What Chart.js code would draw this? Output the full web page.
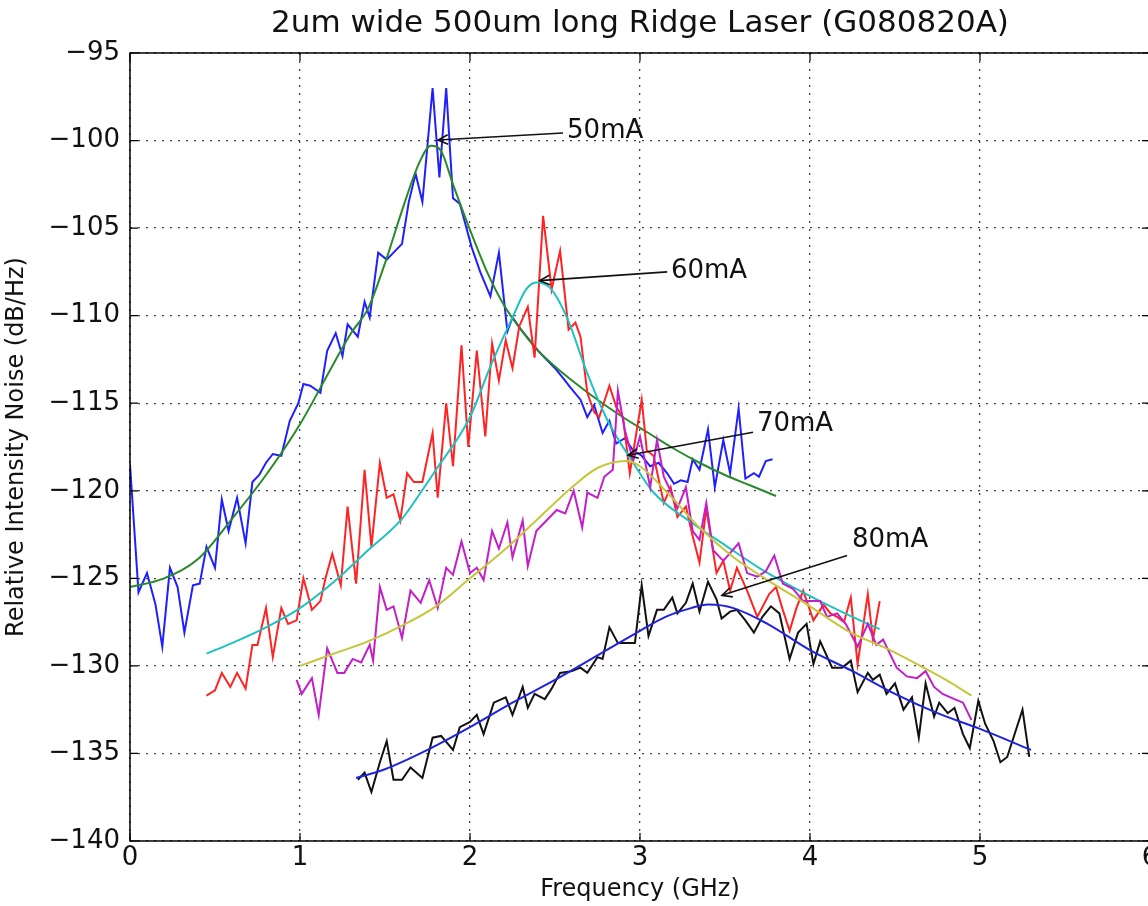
<!DOCTYPE html>
<html>
<head>
<meta charset="utf-8">
<script src="https://cdn.jsdelivr.net/npm/chart.js@4.4.0/dist/chart.umd.min.js"></script>
<style>
  html, body { margin: 0; padding: 0; background: #ffffff; overflow: hidden; width: 1148px; height: 906px; }
  #wrap { position: absolute; left: 0; top: 0; width: 1170px; height: 906px; }
</style>
</head>
<body>
<div id="wrap"><canvas id="c" width="1170" height="906"></canvas></div>
<script>
// ---------------- data ----------------
const titleText = '2um wide 500um long Ridge Laser (G080820A)';
const xAxisLabel = 'Frequency (GHz)';
const yAxisLabel = 'Relative Intensity Noise (dB/Hz)';

// 50 mA measured (blue) and fit (green)
const m50X = [0.00,0.05,0.10,0.15,0.19,0.235,0.28,0.32,0.37,0.41,0.45,0.50,0.54,0.58,0.63,0.68,0.72,0.76,0.80,0.84,0.89,0.94,0.99,1.02,1.06,1.12,1.16,1.21,1.25,1.28,1.34,1.38,1.41,1.46,1.51,1.55,1.60,1.64,1.68,1.72,1.78,1.82,1.86,1.90,1.94,2.01,2.06,2.12,2.17,2.22,2.25,2.30,2.35,2.40,2.45,2.50,2.55,2.59,2.65,2.69,2.73,2.78,2.82,2.86,2.91,2.96,3.01,3.06,3.11,3.16,3.20,3.24,3.28,3.31,3.35,3.40,3.44,3.49,3.53,3.58,3.62,3.67,3.70,3.74,3.78];
const m50Y = [-118.5,-125.8,-124.7,-126.5,-128.9,-124.4,-125.5,-128.1,-125.4,-125.3,-123.2,-124.4,-120.5,-122.3,-120.4,-123.0,-119.5,-119.1,-118.4,-117.9,-118.0,-116.0,-115.0,-113.9,-114.0,-114.4,-112.0,-111.0,-112.3,-110.5,-111.2,-109.2,-110.1,-106.4,-106.8,-106.4,-105.9,-103.5,-101.9,-103.5,-97.0,-102.1,-97.0,-103.3,-103.6,-106.1,-107.5,-108.9,-106.4,-110.9,-110.1,-110.8,-111.4,-112.0,-112.5,-113.0,-113.6,-114.1,-114.8,-115.8,-115.1,-116.7,-116.0,-117.3,-117.0,-117.7,-118.0,-118.6,-118.4,-119.0,-119.6,-119.4,-119.5,-118.2,-118.8,-116.5,-119.8,-117.1,-119.0,-115.3,-119.3,-119.0,-119.2,-118.3,-118.2];
const f50X = [0.0,0.2,0.4,0.6,0.8,1.0,1.2,1.3,1.4,1.5,1.6,1.7,1.77,1.83,1.9,2.0,2.1,2.2,2.3,2.4,2.5,2.6,2.75,2.9,3.05,3.2,3.35,3.5,3.65,3.8];
const f50Y = [-125.5,-125.0,-123.9,-121.6,-119.1,-116.2,-112.7,-111.0,-109.6,-107.0,-104.0,-101.3,-100.3,-100.6,-102.5,-105.1,-107.5,-109.4,-110.8,-112.0,-112.9,-113.7,-114.8,-115.8,-116.7,-117.6,-118.4,-119.1,-119.7,-120.3];

// 60 mA measured (red) and fit (cyan)
const m60X = [0.45,0.50,0.54,0.59,0.63,0.68,0.72,0.75,0.80,0.84,0.89,0.93,0.98,1.02,1.07,1.12,1.15,1.19,1.24,1.28,1.33,1.38,1.42,1.47,1.51,1.55,1.59,1.63,1.67,1.72,1.78,1.81,1.86,1.90,1.95,1.99,2.04,2.09,2.13,2.17,2.21,2.25,2.29,2.34,2.38,2.43,2.48,2.53,2.58,2.62,2.65,2.69,2.73,2.76,2.82,2.86,2.90,2.94,3.01,3.04,3.08,3.14,3.18,3.22,3.27,3.31,3.35,3.39,3.45,3.49,3.53,3.57,3.63,3.69,3.76,3.80,3.84,3.88,3.92,3.96,4.02,4.08,4.12,4.16,4.20,4.24,4.28,4.34,4.37,4.41];
const m60Y = [-131.7,-131.4,-130.4,-131.2,-130.4,-131.3,-128.8,-128.8,-126.7,-129.5,-126.7,-127.6,-127.4,-125.0,-126.8,-126.3,-125.0,-123.6,-125.4,-120.9,-125.3,-118.8,-123.2,-118.4,-120.4,-120.2,-121.7,-119.0,-119.5,-119.5,-116.7,-120.4,-115.0,-118.6,-111.7,-117.5,-112.0,-116.9,-111.6,-113.7,-111.4,-113.0,-110.6,-109.5,-112.4,-104.3,-108.5,-106.3,-110.8,-110.4,-111.2,-114.4,-115.5,-115.8,-114.0,-115.2,-115.8,-119.0,-114.8,-117.7,-118.0,-120.7,-119.8,-121.5,-120.9,-122.6,-124.1,-121.0,-124.7,-124.0,-125.7,-124.4,-125.7,-127.2,-125.9,-125.5,-126.8,-128.0,-126.7,-125.7,-127.4,-126.5,-127.0,-127.2,-127.5,-126.1,-129.9,-125.9,-128.5,-126.3];
const f60X = [0.45,0.6,0.8,1.0,1.2,1.4,1.6,1.71,1.8,2.0,2.12,2.25,2.33,2.39,2.47,2.57,2.69,2.81,2.96,3.08,3.3,3.5,3.7,3.9,4.1,4.25,4.41];
const f60Y = [-129.3,-128.7,-127.8,-126.7,-125.2,-123.4,-121.6,-120.1,-118.8,-115.8,-112.9,-110.1,-108.5,-108.1,-108.4,-110.1,-113.3,-116.0,-118.4,-120.1,-121.8,-123.1,-124.4,-125.5,-126.5,-127.2,-127.9];

// 70 mA measured (magenta) and fit (yellow)
const m70X = [0.98,1.01,1.07,1.11,1.16,1.22,1.26,1.31,1.36,1.41,1.43,1.47,1.51,1.55,1.60,1.65,1.71,1.76,1.81,1.86,1.90,1.95,2.00,2.04,2.08,2.13,2.17,2.22,2.25,2.31,2.34,2.39,2.45,2.51,2.56,2.61,2.66,2.69,2.75,2.79,2.84,2.87,2.91,2.96,3.00,3.06,3.10,3.14,3.18,3.22,3.27,3.31,3.35,3.39,3.43,3.49,3.58,3.63,3.69,3.74,3.79,3.84,3.90,3.96,4.01,4.06,4.10,4.16,4.21,4.28,4.34,4.39,4.43,4.51,4.57,4.63,4.68,4.73,4.78,4.85,4.90,4.95];
const m70Y = [-130.8,-131.6,-130.7,-132.8,-129.0,-130.4,-130.4,-129.6,-129.8,-128.8,-129.7,-125.5,-126.8,-126.6,-128.4,-125.7,-126.4,-125.1,-126.7,-124.4,-124.8,-122.9,-124.7,-124.4,-125.1,-122.3,-123.3,-121.8,-123.8,-121.7,-124.3,-122.3,-121.7,-121.1,-121.3,-120.0,-122.1,-120.1,-120.4,-119.2,-118.8,-114.3,-116.5,-118.3,-116.9,-119.8,-117.1,-119.2,-120.0,-121.0,-119.8,-122.3,-122.8,-120.7,-123.4,-124.0,-123.0,-124.7,-124.9,-124.6,-123.7,-125.3,-125.6,-126.3,-126.3,-126.3,-127.2,-127.0,-127.6,-128.9,-127.6,-128.8,-128.5,-130.1,-130.6,-130.7,-130.3,-131.2,-131.6,-131.9,-132.1,-133.1];
const f70X = [1.0,1.2,1.4,1.6,1.8,2.0,2.2,2.4,2.6,2.75,2.92,3.0,3.16,3.35,3.55,3.75,4.0,4.24,4.45,4.63,4.8,4.95];
const f70Y = [-130.0,-129.3,-128.6,-127.7,-126.6,-125.0,-123.4,-121.6,-119.8,-118.7,-118.3,-118.6,-120.1,-122.1,-123.8,-125.1,-126.6,-128.1,-129.0,-129.9,-130.8,-131.7];

// 80 mA measured (black) and fit (blue)
const m80X = [1.34,1.38,1.42,1.47,1.51,1.55,1.60,1.65,1.72,1.78,1.83,1.90,1.94,2.00,2.04,2.08,2.14,2.21,2.25,2.31,2.34,2.38,2.44,2.48,2.53,2.60,2.65,2.69,2.75,2.78,2.82,2.87,2.92,2.97,3.01,3.05,3.10,3.14,3.19,3.22,3.27,3.31,3.35,3.40,3.45,3.48,3.53,3.57,3.62,3.67,3.72,3.77,3.82,3.88,3.93,3.98,4.02,4.06,4.13,4.19,4.24,4.28,4.34,4.37,4.41,4.45,4.50,4.55,4.60,4.64,4.68,4.73,4.76,4.81,4.85,4.90,4.94,4.99,5.03,5.08,5.12,5.16,5.20,5.25,5.29];
const m80Y = [-136.5,-136.1,-137.2,-135.5,-134.3,-136.5,-136.5,-135.8,-136.4,-134.1,-134.0,-134.8,-133.5,-133.2,-132.8,-133.9,-132.1,-131.8,-132.8,-131.2,-132.4,-131.6,-131.9,-131.3,-130.4,-130.3,-130.1,-130.4,-129.5,-129.6,-127.8,-128.7,-128.7,-128.7,-125.4,-128.3,-126.8,-126.8,-126.1,-127.0,-126.4,-125.3,-126.9,-125.2,-126.2,-127.3,-126.9,-126.8,-127.4,-128.1,-127.2,-126.6,-127.0,-129.6,-128.1,-127.6,-129.9,-128.6,-130.1,-130.1,-129.7,-131.5,-130.4,-130.8,-130.5,-131.6,-131.0,-132.5,-131.8,-134.1,-131.0,-132.9,-132.1,-132.7,-132.4,-133.9,-134.7,-132.0,-133.3,-134.3,-135.5,-135.2,-134.0,-132.5,-135.2];
const f80X = [1.33,1.5,1.75,2.0,2.25,2.5,2.75,3.0,3.15,3.3,3.4,3.55,3.75,4.0,4.25,4.5,4.75,5.0,5.3];
const f80Y = [-136.4,-135.9,-134.8,-133.5,-132.1,-130.8,-129.4,-128.0,-127.2,-126.7,-126.5,-126.7,-127.6,-129.1,-130.3,-131.6,-132.7,-133.6,-134.8];

// annotations
const annLabels = ['50mA','60mA','70mA','80mA'];
const annTextX  = [2.571, 3.182, 3.688, 4.247];
const annTextY  = [-99.46, -107.46, -116.2, -122.83];
const annTailX  = [2.547, 3.16, 3.665, 4.218];
const annTailY  = [-99.57, -107.5, -116.66, -123.69];
const annHeadX  = [1.812, 2.41, 2.93, 3.482];
const annHeadY  = [-99.97, -108.0, -117.97, -125.97];

// axis ticks
const xMin = 0, xMax = 6, xStep = 1;
const yMin = -140, yMax = -95, yStep = 5;

// --------------- build ---------------
const zip = (xs, ys) => xs.map((x, i) => ({ x: x, y: ys[i] }));
const FONT = "'DejaVu Sans', sans-serif";

const seriesDefs = [
  { data: zip(m50X, m50Y), color: '#1f1fff', fit: false },
  { data: zip(f50X, f50Y), color: '#2a8a2a', fit: true },
  { data: zip(m60X, m60Y), color: '#ff2323', fit: false },
  { data: zip(f60X, f60Y), color: '#1fc2c2', fit: true },
  { data: zip(m70X, m70Y), color: '#c21fc9', fit: false },
  { data: zip(f70X, f70Y), color: '#c6c63a', fit: true },
  { data: zip(m80X, m80Y), color: '#111111', fit: false },
  { data: zip(f80X, f80Y), color: '#2222dd', fit: true }
];
const N = seriesDefs.length;
const datasets = seriesDefs.map((s, i) => ({
  data: s.data,
  borderColor: s.color,
  backgroundColor: s.color,
  borderWidth: 2,
  pointRadius: 0,
  fill: false,
  tension: s.fit ? 0.4 : 0,
  cubicInterpolationMode: s.fit ? 'monotone' : 'default',
  order: N - i
}));

const framePlugin = {
  id: 'frameAndAnnotations',
  afterDatasetsDraw(chart) {
    const ctx = chart.ctx;
    const a = chart.chartArea;
    const xs = chart.scales.x, ys = chart.scales.y;
    ctx.save();
    // annotations
    ctx.strokeStyle = '#111';
    ctx.fillStyle = '#111';
    ctx.lineWidth = 1.6;
    ctx.font = '26px ' + FONT;
    ctx.textAlign = 'left';
    ctx.textBaseline = 'middle';
    for (let i = 0; i < annLabels.length; i++) {
      const tx = xs.getPixelForValue(annTailX[i]), ty = ys.getPixelForValue(annTailY[i]);
      const hx = xs.getPixelForValue(annHeadX[i]), hy = ys.getPixelForValue(annHeadY[i]);
      ctx.beginPath(); ctx.moveTo(tx, ty); ctx.lineTo(hx, hy); ctx.stroke();
      const ang = Math.atan2(ty - hy, tx - hx);
      const L = 11, W = 0.45;
      ctx.beginPath();
      ctx.moveTo(hx + L * Math.cos(ang + W), hy + L * Math.sin(ang + W));
      ctx.lineTo(hx, hy);
      ctx.lineTo(hx + L * Math.cos(ang - W), hy + L * Math.sin(ang - W));
      ctx.stroke();
      ctx.fillText(annLabels[i], xs.getPixelForValue(annTextX[i]), ys.getPixelForValue(annTextY[i]));
    }
    // frame
    ctx.strokeStyle = '#000';
    ctx.lineWidth = 1.5;
    ctx.strokeRect(a.left, a.top, a.right - a.left, a.bottom - a.top);
    // inward ticks
    ctx.lineWidth = 1.2;
    const tl = 8;
    ctx.beginPath();
    xs.ticks.forEach(t => {
      const p = xs.getPixelForValue(t.value);
      ctx.moveTo(p, a.bottom); ctx.lineTo(p, a.bottom - tl);
      ctx.moveTo(p, a.top); ctx.lineTo(p, a.top + tl);
    });
    ys.ticks.forEach(t => {
      const p = ys.getPixelForValue(t.value);
      ctx.moveTo(a.left, p); ctx.lineTo(a.left + tl, p);
      ctx.moveTo(a.right, p); ctx.lineTo(a.right - tl, p);
    });
    ctx.stroke();
    // title
    ctx.fillStyle = '#111';
    ctx.font = '31px ' + FONT;
    ctx.textAlign = 'center';
    ctx.textBaseline = 'middle';
    ctx.fillText(titleText, (a.left + a.right) / 2, 24);
    ctx.restore();
  }
};

const minusFmt = v => String(v).replace('-', '\u2212');
const gridOpts = { color: '#444', lineWidth: 1.3, drawTicks: false };
const borderOpts = { display: false, dash: [2, 6] };

new Chart(document.getElementById('c'), {
  type: 'line',
  data: { datasets: datasets },
  options: {
    responsive: false,
    animation: false,
    devicePixelRatio: 1,
    layout: { padding: { top: 53, left: 0, right: 20, bottom: 0 } },
    plugins: { legend: { display: false }, tooltip: { enabled: false }, title: { display: false } },
    scales: {
      x: {
        type: 'linear', min: xMin, max: xMax,
        afterFit: s => { s.height = 65; },
        ticks: { stepSize: xStep, color: '#111', font: { family: FONT, size: 26 }, padding: 2, maxRotation: 0, callback: minusFmt },
        grid: gridOpts,
        border: borderOpts,
        title: { display: true, text: xAxisLabel, color: '#111', font: { family: FONT, size: 24 }, padding: { top: 0, bottom: 2 } }
      },
      y: {
        type: 'linear', min: yMin, max: yMax,
        afterFit: s => { s.width = 130; },
        ticks: { stepSize: yStep, color: '#111', font: { family: FONT, size: 26 }, padding: 10, callback: minusFmt },
        grid: gridOpts,
        border: borderOpts,
        title: { display: true, text: yAxisLabel, color: '#111', font: { family: FONT, size: 24 }, padding: { top: 2, bottom: 0 } }
      }
    }
  },
  plugins: [framePlugin]
});
</script>
</body>
</html>
